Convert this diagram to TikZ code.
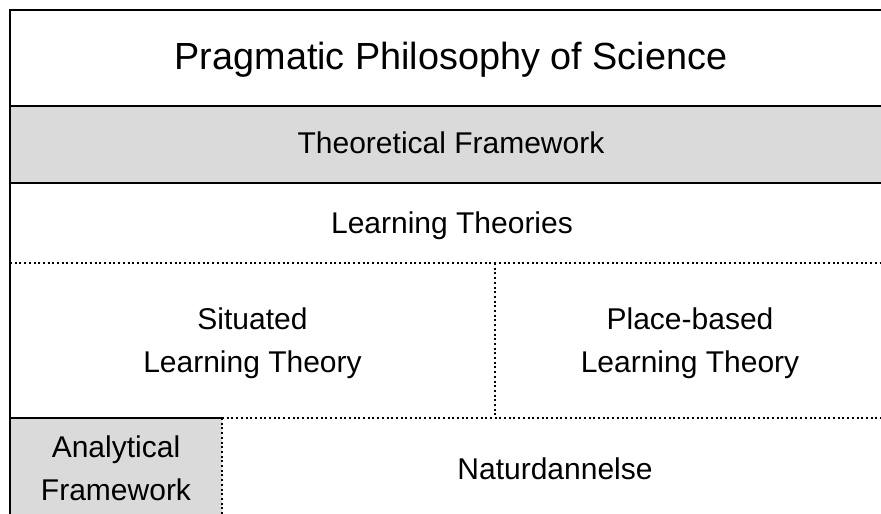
\documentclass[tikz,border=0pt]{standalone}
\usepackage{fontspec}
\setmainfont{Liberation Sans}
\definecolor{boxgray}{RGB}{218,218,218}
\begin{document}
\begin{tikzpicture}[x=1pt,y=-1pt,
  solidrule/.style={line width=2pt,black},
  dotrule/.style={line width=2.2pt,black,dash pattern=on 2pt off 2.7pt},
  label/.style={inner sep=0pt,align=center,font=\fontsize{30}{43}\selectfont},
  titlelabel/.style={inner sep=0pt,font=\fontsize{37.8}{45}\selectfont}]
  \useasboundingbox (0,0) rectangle (881,514);
  % shaded bands
  \fill[boxgray] (10,106) rectangle (881,183);
  \fill[boxgray] (10,418) rectangle (222,514);
  % dotted separators
  \draw[dotrule] (10,263) -- (881,263);
  \draw[dotrule] (495,263) -- (495,418);
  \draw[dotrule] (222,418) -- (881,418);
  \draw[dotrule] (222,418) -- (222,514);
  % solid rules
  \draw[solidrule] (881,10) -- (10,10) -- (10,514);
  \draw[solidrule] (10,106) -- (881,106);
  \draw[solidrule] (10,183) -- (881,183);
  \draw[solidrule] (10,418) -- (222,418);
  % labels
  \node[titlelabel,anchor=base] (pps) at (451,69) {Pragmatic Philosophy of Science};
  \node[label,anchor=base] (tf) at (451,153) {Theoretical Framework};
  \node[label,anchor=base] (lt) at (452,233) {Learning Theories};
  \node[label] (slt) at (252.5,343.5) {Situated\\Learning Theory};
  \node[label] (plt) at (690,343.5) {Place-based\\Learning Theory};
  \node[label] (af) at (116,468) {Analytical\\Framework};
  \node[label,anchor=base] (nd) at (555,479) {Naturdannelse};
\end{tikzpicture}
\end{document}
